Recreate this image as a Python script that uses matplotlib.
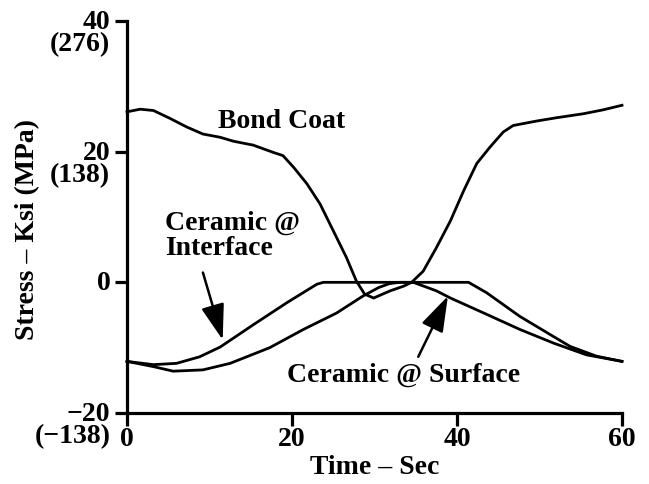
import matplotlib
matplotlib.use("Agg")
import matplotlib.pyplot as plt
import matplotlib.transforms as mtransforms

# ---- data ----
bond_x = [0, 1.6, 3.2, 5.2, 7.2, 9.2, 11.3, 12.9, 15.3, 17.7, 18.9, 20.2, 21.8, 23.4, 25.0,
          26.6, 27.8, 28.8, 29.9, 31.9, 33.5, 34.5, 35.9, 37.5, 39.2, 40.8, 42.4, 44.0,
          45.6, 46.8, 49.7, 52.1, 55.3, 57.7, 60]
bond_y = [26.1, 26.5, 26.3, 25.1, 23.8, 22.7, 22.2, 21.6, 21.0, 19.9, 19.4, 17.6, 15.1, 12.0, 7.9,
          3.8, 0.2, -1.8, -2.4, -1.3, -0.6, 0.0, 1.7, 5.3, 9.4, 14.0, 18.2, 20.7,
          23.0, 24.0, 24.7, 25.2, 25.8, 26.4, 27.1]

intf_x = [0, 3.2, 6.0, 8.8, 11.3, 15.3, 19.4, 23.0, 23.8, 41.4, 43.6, 47.6, 51.7, 53.7, 56.9, 60]
intf_y = [-12.1, -12.6, -12.4, -11.4, -9.9, -6.5, -3.1, -0.3, 0, 0, -1.6, -5.2, -8.3, -9.8, -11.3, -12.1]

surf_x = [0, 3.2, 5.6, 9.2, 12.5, 17.3, 21.4, 25.4, 28.6, 30.5, 31.8, 33.0, 34.7, 37.5, 39.2,
          43.6, 47.6, 51.7, 55.7, 60]
surf_y = [-12.1, -12.9, -13.6, -13.4, -12.4, -10.0, -7.2, -4.7, -2.1, -0.8, -0.2, 0, 0, -1.3, -2.4,
          -4.9, -7.2, -9.3, -11.1, -12.1]

x_ticks = [0, 20, 40, 60]
x_ticklabels = ["0", "20", "40", "60"]
y_ticks = [-20, 0, 20, 40]
y_ticklabels = ["\u221220\n(\u2212138)", "0", "20\n(138)", "40\n(276)"]

plt.rcParams['font.family'] = ['Liberation Serif', 'DejaVu Serif']
plt.rcParams['font.weight'] = 'bold'
FS = 20

fig = plt.figure(figsize=(6.49, 4.84), dpi=100)
ax = fig.add_axes([127/649, 1-413/484, (622-127)/649, (413-21)/484])

lw = 2.0
for xs, ys in [(bond_x, bond_y), (intf_x, intf_y), (surf_x, surf_y)]:
    ax.plot(xs, ys, color='black', lw=lw, clip_on=False, solid_joinstyle='round')

ax.set_xlim(0, 60)
ax.set_ylim(-20, 40)

for s in ['top', 'right']:
    ax.spines[s].set_visible(False)
for s in ['left', 'bottom']:
    ax.spines[s].set_linewidth(2.3)

ax.set_xticks(x_ticks)
ax.set_xticklabels(x_ticklabels, fontsize=FS, fontweight='bold')
ax.set_yticks(y_ticks)
ax.set_yticklabels(y_ticklabels, fontsize=FS, fontweight='bold', va='top', linespacing=0.85)
ax.tick_params(axis='both', direction='out', length=9, width=2.3, pad=3)
ax.tick_params(axis='x', pad=1)

offset = mtransforms.ScaledTranslation(0, 7.8/72, fig.dpi_scale_trans)
for lab in ax.get_yticklabels():
    lab.set_transform(lab.get_transform() + offset)

ax.set_xlabel("Time \u2013 Sec", fontsize=FS, fontweight='bold', labelpad=2)
fig.text(28/649, 1-230/484, "Stress \u2013 Ksi (MPa)", rotation=90, ha='center', va='center',
         fontsize=FS, fontweight='bold')

ax.text(11.0, 24.6, "Bond Coat", ha='left', va='center', fontsize=FS, fontweight='bold')
ax.text(4.6, 10.9, "Ceramic @\nInterface", ha='left', va='top', fontsize=FS, fontweight='bold',
        linespacing=1.0)
ax.text(19.4, -14.2, "Ceramic @ Surface", ha='left', va='center', fontsize=FS, fontweight='bold')

astyle = dict(arrowstyle='-|>,head_length=1.1,head_width=0.36', mutation_scale=20,
              lw=1.8, color='black', shrinkA=0, shrinkB=0)
ax.annotate("", xy=(11.6, -8.8), xytext=(9.2, 1.5), arrowprops=astyle)
ax.annotate("", xy=(38.9, -2.1), xytext=(35.3, -11.4), arrowprops=astyle)

fig.savefig("out.png", dpi=100)
